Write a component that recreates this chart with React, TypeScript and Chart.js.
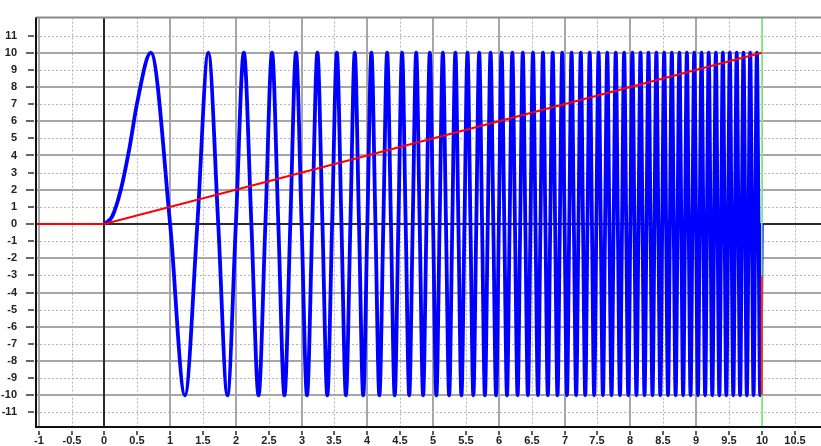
import React, { useEffect, useRef } from "react";
import { Chart, registerables } from "chart.js";

Chart.register(...registerables);

const X_MIN = -1.04;
const X_MAX = 10.9;
const Y_MIN = -11.85;
const Y_MAX = 12.05;

const xTickValues = [-1, -0.5, 0, 0.5, 1, 1.5, 2, 2.5, 3, 3.5, 4, 4.5, 5, 5.5, 6, 6.5, 7, 7.5, 8, 8.5, 9, 9.5, 10, 10.5];
const yTickValues = [-11, -10, -9, -8, -7, -6, -5, -4, -3, -2, -1, 0, 1, 2, 3, 4, 5, 6, 7, 8, 9, 10, 11];

// chirp: turning points and zero crossings
const chirpX = [
  0, 0.12, 0.25, 0.38, 0.5, 0.707, 1.0, 1.225, 1.414, 1.581, 1.732, 1.871, 2.0, 2.121, 2.236, 2.345, 2.449, 2.55, 2.646, 2.739,
  2.828, 2.915, 3.0, 3.082, 3.162, 3.24, 3.317, 3.391, 3.464, 3.536, 3.606, 3.674, 3.742, 3.808, 3.873, 3.937,
  4.0, 4.062, 4.123, 4.183, 4.243, 4.301, 4.359, 4.416, 4.472, 4.528, 4.583, 4.637, 4.69, 4.743, 4.796, 4.848,
  4.899, 4.95, 5.0, 5.05, 5.099, 5.148, 5.196, 5.244, 5.292, 5.339, 5.385, 5.431, 5.477, 5.523, 5.568, 5.612,
  5.657, 5.701, 5.745, 5.788, 5.831, 5.874, 5.916, 5.958, 6.0, 6.042, 6.083, 6.124, 6.164, 6.205, 6.245, 6.285,
  6.325, 6.364, 6.403, 6.442, 6.481, 6.519, 6.557, 6.595, 6.633, 6.671, 6.708, 6.745, 6.782, 6.819, 6.856, 6.892,
  6.928, 6.964, 7.0, 7.036, 7.071, 7.106, 7.141, 7.176, 7.211, 7.246, 7.28, 7.314, 7.348, 7.382, 7.416, 7.45,
  7.483, 7.517, 7.55, 7.583, 7.616, 7.649, 7.681, 7.714, 7.746, 7.778, 7.81, 7.842, 7.874, 7.906, 7.937, 7.969,
  8.0, 8.031, 8.062, 8.093, 8.124, 8.155, 8.185, 8.216, 8.246, 8.276, 8.307, 8.337, 8.367, 8.396, 8.426, 8.456,
  8.485, 8.515, 8.544, 8.573, 8.602, 8.631, 8.66, 8.689, 8.718, 8.746, 8.775, 8.803, 8.832, 8.86, 8.888, 8.916,
  8.944, 8.972, 9.0, 9.028, 9.055, 9.083, 9.11, 9.138, 9.165, 9.192, 9.22, 9.247, 9.274, 9.301, 9.327, 9.354,
  9.381, 9.407, 9.434, 9.46, 9.487, 9.513, 9.539, 9.566, 9.592, 9.618, 9.644, 9.67, 9.695, 9.721, 9.747, 9.772,
  9.798, 9.823, 9.849, 9.874, 9.899, 9.925, 9.95, 9.975, 10.0,
];
const chirpY = [
  0, 0.45, 2, 4.4, 7.1, 10, 0, -10, 0, 10, 0, -10, 0, 10, 0, -10, 0, 10, 0, -10, 0, 10, 0, -10,
  0, 10, 0, -10, 0, 10, 0, -10, 0, 10, 0, -10, 0, 10, 0, -10, 0, 10, 0, -10,
  0, 10, 0, -10, 0, 10, 0, -10, 0, 10, 0, -10, 0, 10, 0, -10, 0, 10, 0, -10,
  0, 10, 0, -10, 0, 10, 0, -10, 0, 10, 0, -10, 0, 10, 0, -10, 0, 10, 0, -10,
  0, 10, 0, -10, 0, 10, 0, -10, 0, 10, 0, -10, 0, 10, 0, -10, 0, 10, 0, -10,
  0, 10, 0, -10, 0, 10, 0, -10, 0, 10, 0, -10, 0, 10, 0, -10, 0, 10, 0, -10,
  0, 10, 0, -10, 0, 10, 0, -10, 0, 10, 0, -10, 0, 10, 0, -10, 0, 10, 0, -10,
  0, 10, 0, -10, 0, 10, 0, -10, 0, 10, 0, -10, 0, 10, 0, -10, 0, 10, 0, -10,
  0, 10, 0, -10, 0, 10, 0, -10, 0, 10, 0, -10, 0, 10, 0, -10, 0, 10, 0, -10,
  0, 10, 0, -10, 0, 10, 0, -10, 0, 10, 0, -10, 0, 10, 0, -10, 0, 10, 0, -10,
  0,
];

// red ramp
const rampX = [-1.04, 0, 10];
const rampY = [0, 0, 10];
// red tail at the end
const tailX = [10, 10];
const tailY = [-3, -10];
// green marker at x = 10
const markerX = [10, 10];
const markerY = [Y_MIN, Y_MAX];

const FONT_FAMILY = "'Liberation Sans', Arial, sans-serif";
const FONT = { family: FONT_FAMILY, size: 11, weight: "bold" as const };

function pts(xs: number[], ys: number[]) {
  return xs.map((x, i) => ({ x, y: ys[i] }));
}

const framePlugin = {
  id: "frameGrid",
  beforeDatasetsDraw(chart: any) {
    const { ctx, chartArea: a, scales } = chart;
    const xs = scales.x;
    const ys = scales.y;
    ctx.save();
    for (const v of xTickValues) {
      const major = Number.isInteger(v);
      const px = major ? Math.round(xs.getPixelForValue(v)) : Math.round(xs.getPixelForValue(v)) + 0.5;
      ctx.strokeStyle = major ? "#a6a6a6" : "#b4b4b4";
      ctx.lineWidth = major ? 2 : 1;
      ctx.setLineDash(major ? [] : [2, 2]);
      ctx.beginPath();
      ctx.moveTo(px, a.top);
      ctx.lineTo(px, a.bottom);
      ctx.stroke();
    }
    for (const v of yTickValues) {
      const major = v % 2 === 0;
      const py = major ? Math.round(ys.getPixelForValue(v)) : Math.round(ys.getPixelForValue(v)) + 0.5;
      ctx.strokeStyle = major ? "#a6a6a6" : "#b4b4b4";
      ctx.lineWidth = major ? 2 : 1;
      ctx.setLineDash(major ? [] : [2, 2]);
      ctx.beginPath();
      ctx.moveTo(a.left, py);
      ctx.lineTo(a.right, py);
      ctx.stroke();
    }
    ctx.setLineDash([]);
    ctx.strokeStyle = "#2a2a2a";
    ctx.lineWidth = 2;
    const x0 = Math.round(xs.getPixelForValue(0));
    const y0 = Math.round(ys.getPixelForValue(0));
    ctx.beginPath();
    ctx.moveTo(x0, a.top);
    ctx.lineTo(x0, a.bottom);
    ctx.moveTo(a.left, y0);
    ctx.lineTo(a.right, y0);
    ctx.stroke();
    ctx.restore();
  },
  afterDraw(chart: any) {
    const { ctx, chartArea: a, scales } = chart;
    const xs = scales.x;
    const ys = scales.y;
    ctx.save();
    ctx.strokeStyle = "#8a8a8a";
    ctx.lineWidth = 2;
    ctx.beginPath();
    ctx.moveTo(a.left, a.top);
    ctx.lineTo(a.right, a.top);
    ctx.stroke();
    ctx.strokeStyle = "#111";
    ctx.lineWidth = 2;
    ctx.beginPath();
    ctx.moveTo(a.left, a.top);
    ctx.lineTo(a.left, a.bottom);
    ctx.lineTo(a.right, a.bottom);
    ctx.stroke();
    ctx.strokeStyle = "#333";
    ctx.lineWidth = 1.6;
    ctx.beginPath();
    for (const v of yTickValues) {
      const py = Math.round(ys.getPixelForValue(v));
      const major = v % 2 === 0;
      ctx.moveTo(a.left - (major ? 10 : 8), py);
      ctx.lineTo(a.left - 2, py);
    }
    for (const v of xTickValues) {
      const px = Math.round(xs.getPixelForValue(v));
      ctx.moveTo(px, a.bottom + 4);
      ctx.lineTo(px, a.bottom + 8);
    }
    ctx.stroke();
    // x tick labels
    ctx.fillStyle = "#222";
    ctx.font = `bold 11px ${FONT_FAMILY}`;
    ctx.textAlign = "center";
    ctx.textBaseline = "middle";
    for (const v of xTickValues) {
      const px = Math.round(xs.getPixelForValue(v));
      ctx.fillText(String(v), px, a.bottom + 14);
    }
    ctx.restore();
  },
};

export default function App() {
  const ref = useRef<HTMLCanvasElement | null>(null);

  useEffect(() => {
    if (!ref.current) return;
    const chart = new Chart(ref.current, {
      type: "line",
      data: {
        datasets: [
          {
            label: "ramp",
            data: pts(rampX, rampY),
            borderColor: "#ff0000",
            borderWidth: 2.2,
            pointRadius: 0,
            order: 0,
          },
          {
            label: "tail",
            data: pts(tailX, tailY),
            borderColor: "#ff3000",
            borderWidth: 2,
            pointRadius: 0,
            order: 0,
          },
          {
            label: "marker",
            data: pts(markerX, markerY),
            borderColor: "#7fff7f",
            borderWidth: 1.5,
            pointRadius: 0,
            order: 1,
          },
          {
            label: "chirp",
            data: pts(chirpX, chirpY),
            borderColor: "#0000ff",
            borderWidth: 3.8,
            pointRadius: 0,
            cubicInterpolationMode: "monotone",
            order: 2,
          },
        ],
      },
      options: {
        animation: false,
        responsive: false,
        events: [],
        layout: { padding: { top: 10, right: 0, left: 0, bottom: 0 } },
        plugins: { legend: { display: false }, tooltip: { enabled: false } },
        scales: {
          x: {
            type: "linear",
            min: X_MIN,
            max: X_MAX,
            grid: { display: false },
            border: { display: false },
            ticks: { display: false },
            afterBuildTicks: (s: any) => {
              s.ticks = xTickValues.map((value) => ({ value }));
            },
            afterFit: (s: any) => {
              s.height = 19;
            },
          },
          y: {
            type: "linear",
            min: Y_MIN,
            max: Y_MAX,
            grid: { display: false },
            border: { display: false },
            ticks: {
              autoSkip: false,
              padding: 11,
              color: "#222",
              font: FONT,
              callback: (v: any) => String(v),
            },
            afterBuildTicks: (s: any) => {
              s.ticks = yTickValues.map((value) => ({ value }));
            },
            afterFit: (s: any) => {
              s.width = 36;
            },
          },
        },
      },
      plugins: [framePlugin],
    });
    return () => chart.destroy();
  }, []);

  return (
    <div style={{ position: "fixed", left: 0, top: 0, width: 821, height: 446, background: "#fff" }}>
      <canvas ref={ref} width={821} height={446} style={{ width: 821, height: 446, display: "block" }} />
    </div>
  );
}
